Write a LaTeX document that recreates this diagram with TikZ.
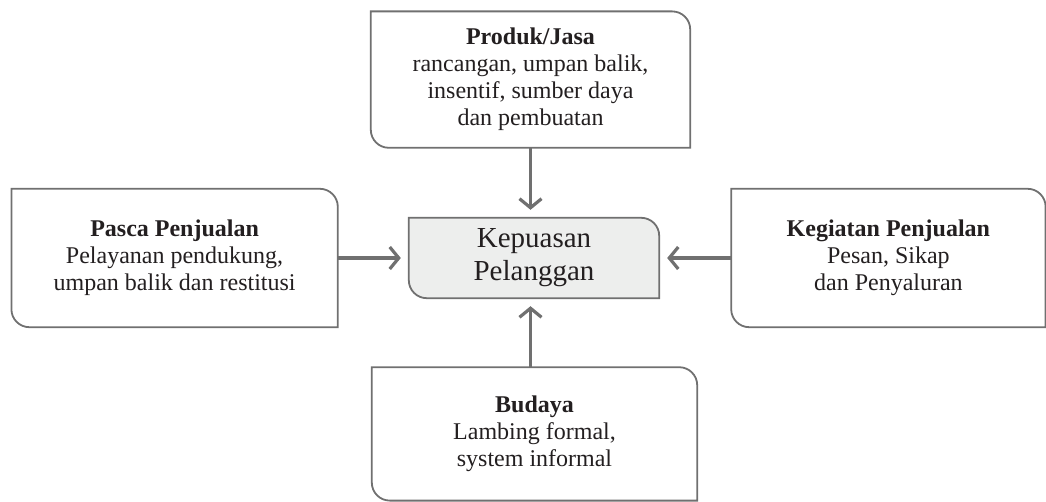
\documentclass[tikz,border=0pt]{standalone}
\usepackage{fontspec}
\setmainfont{Liberation Serif}
\usetikzlibrary{positioning, arrows.meta, backgrounds}

\definecolor{edgegray}{HTML}{707070}
\definecolor{centerfill}{HTML}{EDEEED}
\definecolor{inkblack}{HTML}{231F20}

\tikzset{
  box/.style={minimum width=#1, inner sep=0pt, align=center, text=inkblack,
    font=\fontsize{24}{27}\selectfont},
  outline/.style={draw=edgegray, line width=1.8pt},
  flow/.style={draw=edgegray, line width=3.2pt, shorten >=8pt,
    -{Straight Barb[length=9pt, width=22pt, line width=3.2pt]}},
}

\begin{document}
\begin{tikzpicture}[x=1pt, y=1pt]
    \useasboundingbox (0,0) rectangle (1046,501);
    % Center node
    \node[box=250pt, minimum height=80pt, font=\fontsize{29}{33}\selectfont](kepuasan) at (534,243){Kepuasan\\Pelanggan};
    % Surrounding factors
    \node[box=319pt, minimum height=136pt, above=70pt of kepuasan, xshift=-3.5pt](prod){\textbf{Produk/Jasa}\\rancangan, umpan balik,\\insentif, sumber daya\\dan pembuatan};
    \node[box=326pt, minimum height=138pt, left=71pt of kepuasan](pasca){\textbf{Pasca Penjualan}\\Pelayanan pendukung,\\umpan balik dan restitusi};
    \node[box=314pt, minimum height=138pt, right=72pt of kepuasan](kegiatan){\textbf{Kegiatan Penjualan}\\Pesan, Sikap\\dan Penyaluran};
    \node[box=325pt, minimum height=133pt, below=69pt of kepuasan, xshift=0.5pt](budaya){\textbf{Budaya}\\Lambing formal,\\system informal};
    % Box outlines: rounded top right and bottom left
    \begin{scope}[on background layer]
    \foreach \n/\f in {prod/white, pasca/white, kegiatan/white, budaya/white, kepuasan/centerfill}
      \draw[outline, fill=\f] (\n.north west) -- ([xshift=-18pt]\n.north east) arc[start angle=90, end angle=0, radius=18pt]
        -- (\n.south east) -- ([xshift=18pt]\n.south west) arc[start angle=270, end angle=180, radius=18pt] -- cycle;
    \end{scope}
    % Arrows into the center
    \draw[flow] (prod.south) -- (prod.south |- kepuasan.north);
    \draw[flow] (budaya.north -| prod.south) -- (prod.south |- kepuasan.south);
    \draw[flow] (pasca.east) -- (kepuasan.west);
    \draw[flow] (kegiatan.west) -- (kepuasan.east);
\end{tikzpicture}
\end{document}
